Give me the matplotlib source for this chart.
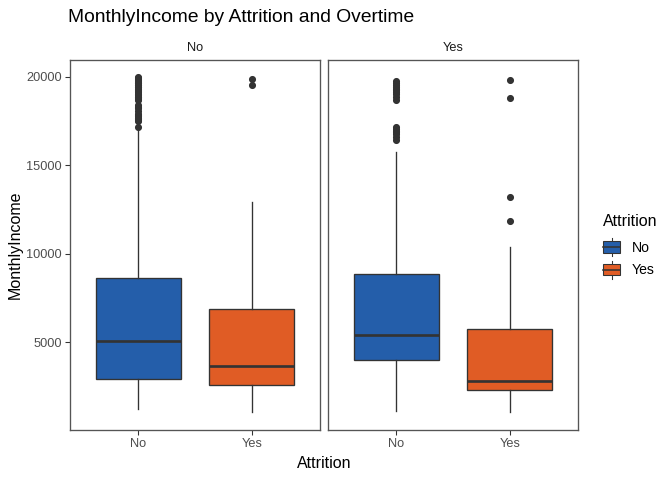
import matplotlib
matplotlib.use('Agg')
import matplotlib.pyplot as plt
from matplotlib.legend_handler import HandlerBase
from matplotlib.patches import Rectangle, Patch
from matplotlib.lines import Line2D

plt.rcParams['font.family'] = ['Liberation Sans', 'DejaVu Sans']

# ---- data ----
overtime = ['No', 'Yes']          # facets
attrition = ['No', 'Yes']         # x categories / fill
fill_colors = ['#245EAA', '#E05C25']

# per facet: [Attrition No, Attrition Yes]
q1 = [[2936, 2582], [3988, 2317]]
med = [[5095, 3690], [5433, 2807]]
q3 = [[8639, 6873], [8864, 5748]]
whislo = [[1249, 1102], [1159, 1081]]
whishi = [[17035, 12913], [15759, 10416]]

fliers_ot_no_att_no = [19999, 19943, 19860, 19845, 19740, 19717, 19665, 19636, 19545, 19513,
                       19436, 19406, 19328, 19237, 19189, 19141, 19049, 18947, 18880, 18844,
                       18789, 18740, 18665, 18430, 18303, 18213, 18061, 17924, 17861, 17779,
                       17665, 17603, 17567, 17500, 17174]
fliers_ot_no_att_yes = [19859, 19545]
fliers_ot_yes_att_no = [19740, 19665, 19545, 19436, 19328, 19237, 19141, 19049, 18880, 18665,
                        17181, 17068, 16959, 16856, 16756, 16595, 16413]
fliers_ot_yes_att_yes = [19845, 18824, 13194, 11849]
fliers = [[fliers_ot_no_att_no, fliers_ot_no_att_yes],
          [fliers_ot_yes_att_no, fliers_ot_yes_att_yes]]

yticks = [5000, 10000, 15000, 20000]

# ---- figure ----
fig = plt.figure(figsize=(7, 5), dpi=96)
W, H = 672, 480
def ax_rect(x0, y0, x1, y1):
    return [x0 / W, 1 - y1 / H, (x1 - x0) / W, (y1 - y0) / H]

axes = [fig.add_axes(ax_rect(70, 60, 320, 430)), fig.add_axes(ax_rect(328, 60, 578, 430))]
dark = '#333333'
for i, ax in enumerate(axes):
    stats = []
    for j in range(2):
        stats.append(dict(med=med[i][j], q1=q1[i][j], q3=q3[i][j],
                          whislo=whislo[i][j], whishi=whishi[i][j],
                          fliers=fliers[i][j]))
    bp = ax.bxp(stats, positions=[1, 2], widths=0.75, patch_artist=True,
                showcaps=False,
                boxprops=dict(edgecolor=dark, linewidth=1.0),
                medianprops=dict(color=dark, linewidth=2.0, solid_capstyle='butt'),
                whiskerprops=dict(color=dark, linewidth=1.0),
                flierprops=dict(marker='o', markerfacecolor=dark, markeredgecolor=dark,
                                markersize=4.3, linestyle='none'))
    for patch, c in zip(bp['boxes'], fill_colors):
        patch.set_facecolor(c)
    ax.set_xlim(0.4, 2.6)
    ax.set_ylim(59.5, 20948)
    ax.set_xticks([1, 2])
    ax.set_xticklabels(attrition)
    ax.set_yticks(yticks)
    for s in ax.spines.values():
        s.set_color('#555555')
        s.set_linewidth(1.0)
    ax.tick_params(axis='both', colors=dark, labelcolor='#4D4D4D', labelsize=9.6,
                   length=3.5, width=0.8, pad=2.5)
    if i == 1:
        ax.tick_params(axis='y', left=False, labelleft=False)
    ax.set_title(overtime[i], fontsize=9.6, color='#1A1A1A', pad=7)

fig.text(68 / W, 1 - 17 / H, 'MonthlyIncome by Attrition and Overtime', fontsize=14.4,
         color='black', ha='left', va='center')
fig.text(324 / W, 1 - 463 / H, 'Attrition', fontsize=12, ha='center', va='center')
fig.text(15 / W, 1 - 245 / H, 'MonthlyIncome', fontsize=12, ha='center', va='center',
         rotation=90)


class BoxHandler(HandlerBase):
    def create_artists(self, legend, orig_handle, xdescent, ydescent, width, height,
                       fontsize, trans):
        x0, y0 = -xdescent, -ydescent
        cx = x0 + width / 2
        fc = orig_handle.get_facecolor()
        lo, hi = 0.17, 0.83
        arts = [
            Line2D([cx, cx], [y0, y0 + height * lo], color=dark, lw=0.8, transform=trans),
            Line2D([cx, cx], [y0 + height * hi, y0 + height], color=dark, lw=0.8, transform=trans),
            Rectangle((x0 + width * 0.03, y0 + height * lo), width * 0.94, height * (hi - lo),
                      facecolor=fc, edgecolor=dark, lw=0.8, transform=trans),
            Line2D([x0 + width * 0.03, x0 + width * 0.97], [y0 + height / 2] * 2,
                   color=dark, lw=1.2, transform=trans),
        ]
        return arts


handles = [Patch(facecolor=c) for c in fill_colors]
leg = fig.legend(handles, attrition, title='Attrition', loc='upper left',
                 bbox_to_anchor=(600 / W, 1 - 211 / H), frameon=False,
                 fontsize=10.5, title_fontsize=12, handler_map={Patch: BoxHandler()},
                 handlelength=1.3, handleheight=1.6, handletextpad=0.75,
                 labelspacing=0.3, borderaxespad=0, borderpad=0.2)
leg._legend_box.align = 'left'
leg._legend_box.sep = leg._legend_box.sep + 4

fig.savefig('out.png', dpi=96)
